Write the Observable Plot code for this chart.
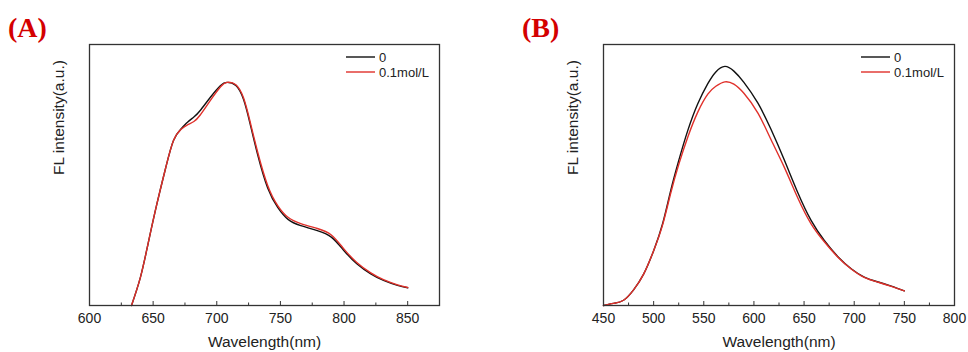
<!DOCTYPE html>
<html><head><meta charset="utf-8">
<script src="https://cdn.jsdelivr.net/npm/d3@7"></script>
<script src="https://cdn.jsdelivr.net/npm/@observablehq/plot@0.6"></script>
<style>
body{margin:0;background:#fff}
#wrap{position:relative;width:968px;height:352px;overflow:hidden}
.p{position:absolute;top:0}
</style>
</head><body><div id="wrap"></div>
<script>
// ---- Data ----
const seriesNames = ["0", "0.1mol/L"];
const seriesColors = ["#111111", "#e0302a"];

// Panel A
const waveA = [633, 640, 646, 653, 660, 666, 672, 677, 682, 687, 695, 703, 708, 715, 721, 726, 732, 740, 748, 756, 766, 779, 790, 800, 810, 821, 831, 842, 850];
const a0    = [0, 0.108, 0.236, 0.39, 0.53, 0.632, 0.677, 0.702, 0.722, 0.747, 0.798, 0.843, 0.855, 0.843, 0.79, 0.70, 0.58, 0.45, 0.375, 0.33, 0.306, 0.287, 0.262, 0.21, 0.16, 0.121, 0.096, 0.077, 0.068];
const a01   = [0, 0.108, 0.236, 0.39, 0.53, 0.632, 0.675, 0.692, 0.705, 0.730, 0.786, 0.838, 0.855, 0.846, 0.796, 0.708, 0.59, 0.46, 0.382, 0.338, 0.314, 0.295, 0.27, 0.216, 0.165, 0.125, 0.099, 0.079, 0.069];
const ticksA = [600, 650, 700, 750, 800, 850];
const minorA = [625, 675, 725, 775, 825];

// Panel B
const waveB = [450, 460, 470, 480, 490, 500, 509, 517, 525, 534, 544, 554, 562, 571, 580, 590, 604, 617, 630, 644, 657, 670, 684, 697, 710, 724, 737, 750];
const b0    = [0, 0.008, 0.02, 0.06, 0.12, 0.21, 0.314, 0.44, 0.555, 0.67, 0.773, 0.85, 0.895, 0.916, 0.898, 0.855, 0.775, 0.675, 0.56, 0.43, 0.326, 0.25, 0.186, 0.141, 0.109, 0.09, 0.074, 0.056];
const b01   = [0, 0.008, 0.02, 0.06, 0.12, 0.21, 0.31, 0.43, 0.54, 0.645, 0.741, 0.81, 0.84, 0.857, 0.848, 0.813, 0.737, 0.636, 0.532, 0.41, 0.313, 0.245, 0.184, 0.14, 0.108, 0.089, 0.073, 0.056];
const ticksB = [450, 500, 550, 600, 650, 700, 750, 800];
const minorB = [475, 525, 575, 625, 675, 725, 775];

const xTitle = "Wavelength(nm)";
const yTitle = "FL intensity(a.u.)";

function toRows(wave, s0, s1) {
  return [
    ...wave.map((w, i) => ({w, v: s0[i], s: seriesNames[0]})),
    ...wave.map((w, i) => ({w, v: s1[i], s: seriesNames[1]}))
  ];
}

const sans = "'Liberation Sans', Arial, Helvetica, sans-serif";
const H = 352, MT = 44, MB = 47;
const frameH = H - MT - MB;

function panel({left, ml, mr, domain, ticks, minor, rows, label}) {
  const chart = Plot.plot({
    width: 484, height: H,
    marginLeft: ml, marginRight: mr, marginTop: MT, marginBottom: MB,
    style: {fontFamily: sans, color: "#222", background: "transparent", overflow: "visible"},
    x: {domain, ticks},
    y: {domain: [0, 1], axis: null},
    color: {domain: seriesNames, range: seriesColors},
    marks: [
      Plot.axisX({ticks, tickSize: 0, tickPadding: 8, fontSize: 14, label: null, tickFormat: d => String(d)}),
      Plot.tickX(ticks, {x: d => d, insetTop: frameH - 4, stroke: "#333", strokeWidth: 1}),
      Plot.tickX(minor, {x: d => d, insetTop: frameH - 2.5, stroke: "#333", strokeWidth: 1}),
      Plot.line(rows, {x: "w", y: "v", z: "s", stroke: "s", strokeWidth: 1.4, curve: "natural"}),
      Plot.frame({stroke: "#333", strokeWidth: 1.3}),
      Plot.text([xTitle], {frameAnchor: "bottom", dy: 41, fontSize: 15.5, fill: "#222"}),
      Plot.text([yTitle], {frameAnchor: "left", rotate: -90, dx: -30, fontSize: 15.5, fill: "#222"})
    ]
  });
  chart.classList.add("p");
  chart.style.left = left + "px";
  const svg = d3.select(chart);
  // panel label
  svg.append("text")
    .attr("x", label.x).attr("y", 37)
    .attr("text-anchor", "start")
    .attr("font-family", "'Liberation Serif', 'Times New Roman', serif")
    .attr("font-weight", "bold").attr("font-size", 28)
    .attr("fill", "#d40000")
    .text(label.text);
  // legend
  const lx = 484 - mr - 93;
  const g = svg.append("g").attr("text-anchor", "start");
  seriesNames.forEach((name, i) => {
    const y = 57 + i * 15;
    g.append("line").attr("x1", lx).attr("x2", lx + 29).attr("y1", y).attr("y2", y)
      .attr("stroke", seriesColors[i]).attr("stroke-width", 1.4);
    g.append("text").attr("x", lx + 33).attr("y", y).attr("dy", "0.35em")
      .attr("font-family", sans).attr("font-size", 13).attr("fill", "#222").text(name);
  });
  document.getElementById("wrap").appendChild(chart);
}

panel({left: 0, ml: 89, mr: 45, domain: [600, 875], ticks: ticksA, minor: minorA,
       rows: toRows(waveA, a0, a01), label: {x: 8, text: "(A)"}});
panel({left: 484, ml: 119, mr: 14, domain: [450, 800], ticks: ticksB, minor: minorB,
       rows: toRows(waveB, b0, b01), label: {x: 38, text: "(B)"}});
</script>
</body></html>
